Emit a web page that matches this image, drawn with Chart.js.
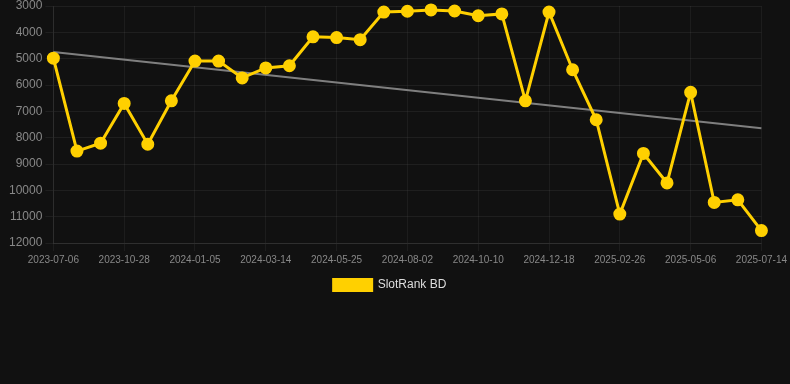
<!DOCTYPE html>
<html>
<head>
<meta charset="utf-8">
<script src="https://cdn.jsdelivr.net/npm/chart.js@4"></script>
<style>
  html, body { margin: 0; padding: 0; background: #111111; }
  #wrap { position: relative; width: 790px; height: 301px; }
</style>
</head>
<body>
<div id="wrap"><canvas id="c"></canvas></div>
<script>
const categories = [
  "2023-07-06","2023-08-13","2023-09-20","2023-10-28","2023-11-20","2023-12-13",
  "2024-01-05","2024-01-28","2024-02-20","2024-03-14","2024-04-07","2024-05-01",
  "2024-05-25","2024-06-17","2024-07-10","2024-08-02","2024-08-25","2024-09-17",
  "2024-10-10","2024-11-02","2024-11-25","2024-12-18","2025-01-10","2025-02-03",
  "2025-02-26","2025-03-21","2025-04-13","2025-05-06","2025-05-29","2025-06-21",
  "2025-07-14"
];
const rankValues = [
  4980, 8510, 8210, 6700, 8250, 6600,
  5090, 5090, 5730, 5350, 5270, 4170,
  4200, 4280, 3230, 3200, 3150, 3190,
  3370, 3300, 6600, 3230, 5420, 7320,
  10900, 8600, 9720, 6280, 10460, 10360,
  11530
];
const trendStart = 4750;
const trendEnd = 7640;
const trendValues = categories.map((_, i) => i === 0 ? trendStart : (i === categories.length - 1 ? trendEnd : null));
const yTicks = [3000, 4000, 5000, 6000, 7000, 8000, 9000, 10000, 11000, 12000];

Chart.defaults.font.family = "'Liberation Sans', Arial, sans-serif";

const legendShift = {
  id: 'legendShift',
  afterLayout(chart) {
    if (chart.legend) { chart.legend.left -= 8; chart.legend.right -= 8; }
  }
};

new Chart(document.getElementById('c'), {
  type: 'line',
  data: {
    labels: categories,
    datasets: [
      {
        label: 'SlotRank BD',
        data: rankValues,
        borderColor: '#FFD000',
        backgroundColor: '#FFD000',
        borderWidth: 3,
        pointRadius: 5,
        pointHoverRadius: 6,
        pointBackgroundColor: '#FFD000',
        pointBorderColor: '#FFD000',
        tension: 0,
        clip: 8,
        order: 1
      },
      {
        label: 'trend',
        data: trendValues,
        borderColor: 'rgba(140,140,140,0.9)',
        borderWidth: 2,
        pointRadius: 0,
        spanGaps: true,
        fill: false,
        order: 2
      }
    ]
  },
  plugins: [legendShift],
  options: {
    responsive: true,
    maintainAspectRatio: false,
    animation: false,
    layout: { autoPadding: false, padding: { top: 6, left: 6, right: 0, bottom: 0 } },
    plugins: {
      legend: {
        position: 'bottom',
        labels: {
          color: '#dddddd',
          font: { size: 12 },
          boxWidth: 38,
          boxHeight: 11,
          filter: (item) => item.text === 'SlotRank BD'
        }
      },
      tooltip: { enabled: false }
    },
    scales: {
      x: {
        grid: { color: 'rgba(255,255,255,0.05)' },
        border: { color: 'rgba(255,255,255,0.08)' },
        ticks: {
          color: '#888888',
          font: { size: 10 },
          maxRotation: 0,
          autoSkip: false,
          callback: function(value, index) {
            return index % 3 === 0 ? categories[index] : null;
          }
        }
      },
      y: {
        reverse: true,
        min: 3000,
        max: 12000,
        afterBuildTicks: (axis) => { axis.ticks = yTicks.map(v => ({ value: v })); },
        grid: { color: 'rgba(255,255,255,0.06)' },
        border: { color: 'rgba(255,255,255,0.08)' },
        ticks: {
          color: '#888888',
          font: { size: 12, lineHeight: 0.2 },
          callback: (v) => String(v)
        }
      }
    }
  }
});
</script>
</body>
</html>
